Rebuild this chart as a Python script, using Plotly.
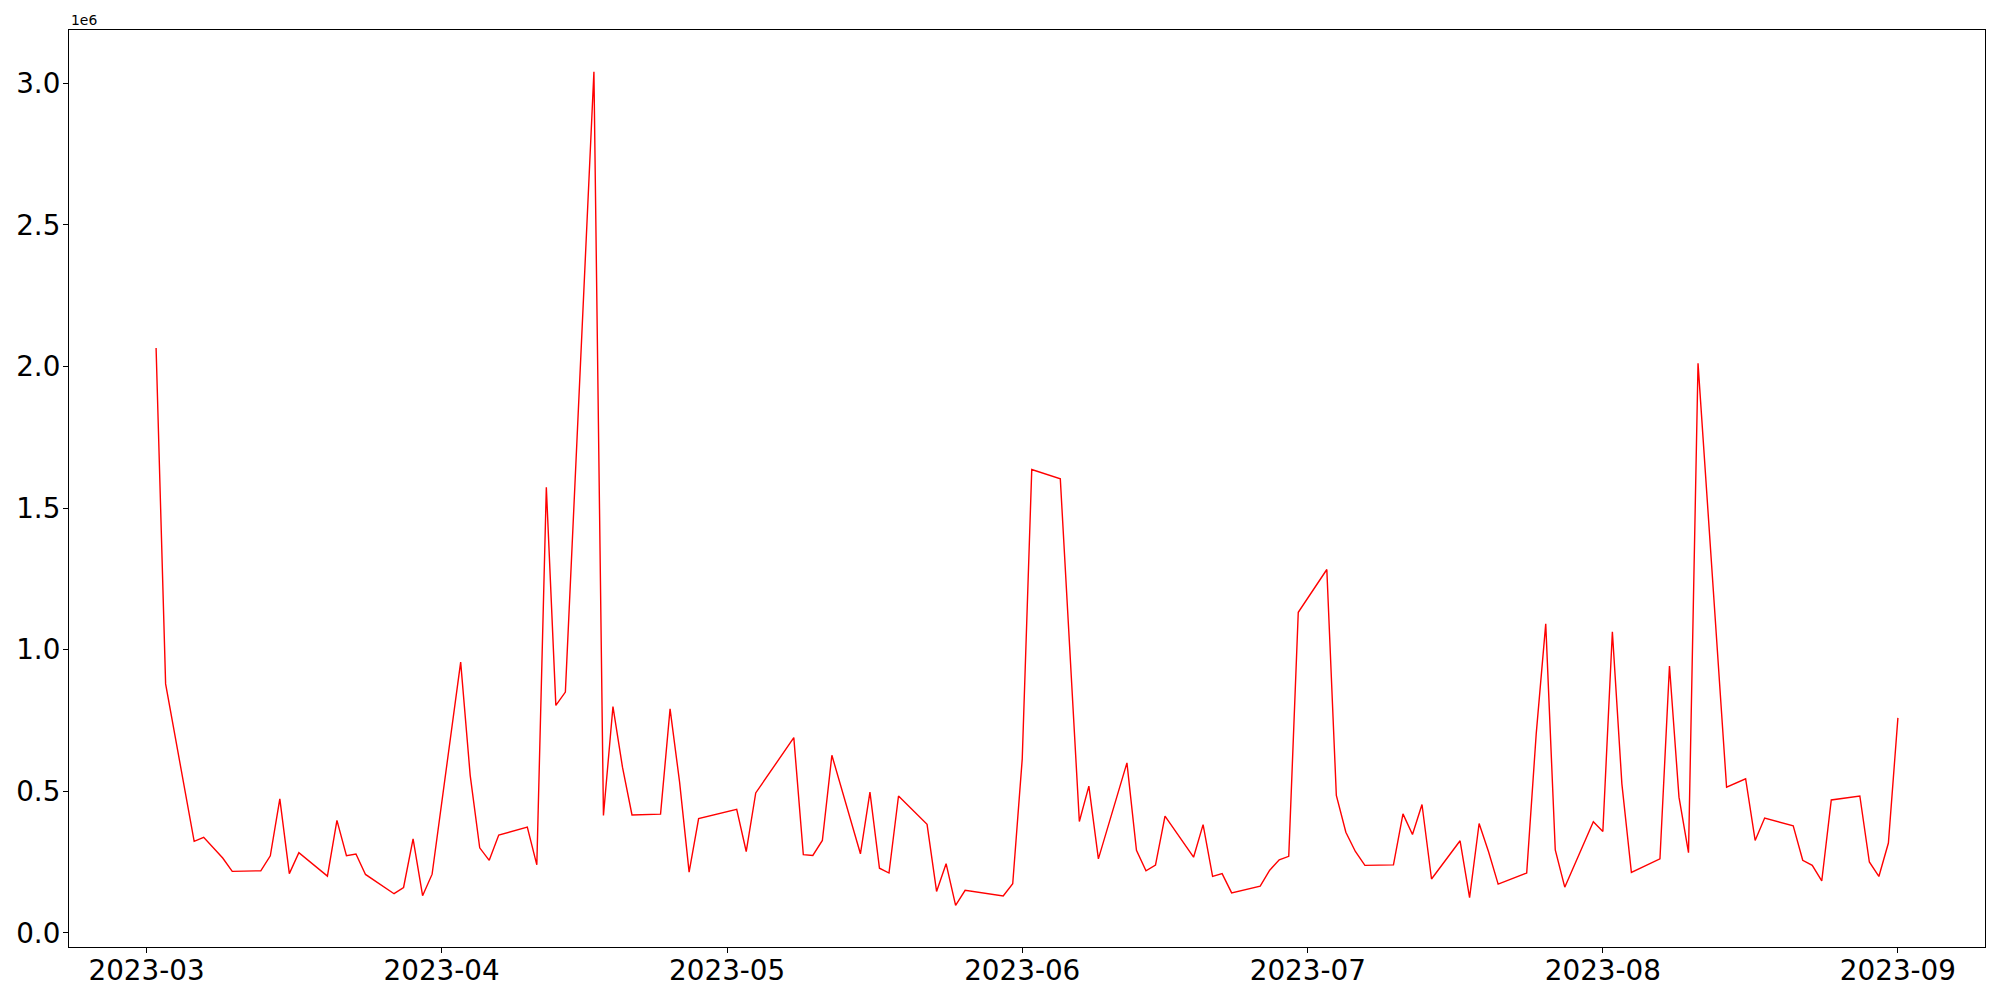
import pandas as pd
import plotly.graph_objects as go

dates = [
    "2023-03-02", "2023-03-03", "2023-03-06", "2023-03-07", "2023-03-09", "2023-03-10",
    "2023-03-13", "2023-03-14", "2023-03-15", "2023-03-16", "2023-03-17",
    "2023-03-20", "2023-03-21", "2023-03-22", "2023-03-23", "2023-03-24",
    "2023-03-27", "2023-03-28", "2023-03-29", "2023-03-30", "2023-03-31",
    "2023-04-03", "2023-04-04", "2023-04-05", "2023-04-06", "2023-04-07",
    "2023-04-10", "2023-04-11", "2023-04-12", "2023-04-13", "2023-04-14",
    "2023-04-17", "2023-04-18", "2023-04-19", "2023-04-20", "2023-04-21",
    "2023-04-24", "2023-04-25", "2023-04-26", "2023-04-27", "2023-04-28",
    "2023-05-02", "2023-05-03", "2023-05-04",
    "2023-05-08", "2023-05-09", "2023-05-10", "2023-05-11", "2023-05-12",
    "2023-05-15", "2023-05-16", "2023-05-17", "2023-05-18", "2023-05-19",
    "2023-05-22", "2023-05-23", "2023-05-24", "2023-05-25", "2023-05-26",
    "2023-05-30", "2023-05-31", "2023-06-01", "2023-06-02",
    "2023-06-05", "2023-06-07", "2023-06-08", "2023-06-09",
    "2023-06-12", "2023-06-13", "2023-06-14", "2023-06-15", "2023-06-16",
    "2023-06-19", "2023-06-20", "2023-06-21", "2023-06-22", "2023-06-23",
    "2023-06-26", "2023-06-27", "2023-06-28", "2023-06-29", "2023-06-30",
    "2023-07-03", "2023-07-04", "2023-07-05", "2023-07-06", "2023-07-07",
    "2023-07-10", "2023-07-11", "2023-07-12", "2023-07-13", "2023-07-14",
    "2023-07-17", "2023-07-18", "2023-07-19", "2023-07-20", "2023-07-21",
    "2023-07-24", "2023-07-25", "2023-07-26", "2023-07-27", "2023-07-28",
    "2023-07-31", "2023-08-01", "2023-08-02", "2023-08-03", "2023-08-04",
    "2023-08-07", "2023-08-08", "2023-08-09", "2023-08-10", "2023-08-11",
    "2023-08-14", "2023-08-16", "2023-08-17", "2023-08-18",
    "2023-08-21", "2023-08-22", "2023-08-23", "2023-08-24", "2023-08-25",
    "2023-08-28", "2023-08-29", "2023-08-30", "2023-08-31", "2023-09-01",
]

values = [
    2065000, 879000, 323000, 337000, 264000, 217000,
    219000, 272000, 473000, 209000, 283000,
    200000, 397000, 272000, 278000, 206000,
    138000, 160000, 332000, 131000, 207000,
    956000, 556000, 300000, 256000, 345000,
    373000, 240000, 1573000, 803000, 850000,
    3041000, 414000, 799000, 585000, 416000,
    419000, 791000, 532000, 214000, 403000,
    436000, 287000, 494000,
    689000, 276000, 273000, 326000, 627000,
    279000, 497000, 228000, 211000, 483000,
    383000, 146000, 244000, 97000, 150000,
    130000, 173000, 614000, 1636000,
    1603000, 393000, 518000, 261000,
    600000, 291000, 219000, 239000, 412000,
    267000, 382000, 199000, 209000, 141000,
    165000, 221000, 258000, 270000, 1132000,
    1283000, 485000, 355000, 287000, 238000,
    240000, 420000, 347000, 453000, 190000,
    325000, 124000, 386000, 285000, 172000,
    211000, 703000, 1091000, 293000, 161000,
    392000, 358000, 1063000, 526000, 213000,
    261000, 942000, 479000, 283000, 2011000,
    514000, 544000, 326000, 405000,
    378000, 256000, 238000, 183000, 469000,
    483000, 250000, 199000, 317000, 759000,
]

x_tick_vals = ["2023-03-01", "2023-04-01", "2023-05-01", "2023-06-01",
               "2023-07-01", "2023-08-01", "2023-09-01"]
x_tick_text = ["2023-03", "2023-04", "2023-05", "2023-06", "2023-07", "2023-08", "2023-09"]
y_tick_vals = [0, 500000, 1000000, 1500000, 2000000, 2500000, 3000000]
y_tick_text = ["0.0", "0.5", "1.0", "1.5", "2.0", "2.5", "3.0"]

# matplotlib-like 5% margins
dt = pd.to_datetime(dates)
span = dt.max() - dt.min()
x_range = [dt.min() - 0.05 * span, dt.max() + 0.05 * span]
ymin, ymax = min(values), max(values)
ypad = 0.05 * (ymax - ymin)
y_range = [ymin - ypad, ymax + ypad]

FONT = "DejaVu Sans"

fig = go.Figure()
fig.add_trace(go.Scatter(
    x=dates, y=values, mode="lines",
    line=dict(color="red", width=1.4),
    showlegend=False,
))

axis_common = dict(
    showline=True, linecolor="black", linewidth=1.1, mirror=True,
    ticks="outside", ticklen=5, tickwidth=1.1, tickcolor="black",
    showgrid=False, zeroline=False, automargin=False,
    tickfont=dict(family=FONT, size=27.8, color="black"),
)

fig.update_layout(
    width=2000, height=1000,
    margin=dict(l=69, r=15, t=30, b=53),
    paper_bgcolor="white", plot_bgcolor="white",
    font=dict(family=FONT, color="black"),
    xaxis=dict(type="date", range=[x_range[0].isoformat(), x_range[1].isoformat()],
               tickvals=x_tick_vals, ticktext=x_tick_text, ticklabelstandoff=-6,
               **axis_common),
    yaxis=dict(range=y_range, tickvals=y_tick_vals, ticktext=y_tick_text,
               ticklabelstandoff=-3, **axis_common),
    annotations=[dict(
        text="1e6", x=0, y=1, xref="paper", yref="paper",
        xanchor="left", yanchor="bottom", showarrow=False,
        font=dict(family=FONT, size=13.9, color="black"), yshift=0,
    )],
)

fig.write_html(
    "out.html",
    config={"displayModeBar": False},
    post_script="document.body.style.margin='0';document.body.style.padding='0';"
                "document.body.style.overflow='hidden';",
)
